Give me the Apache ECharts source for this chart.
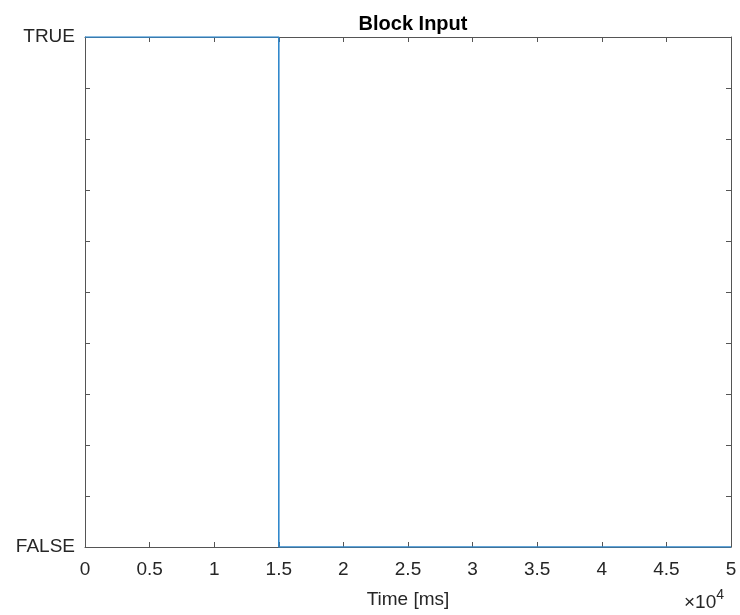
<!DOCTYPE html>
<html>
<head>
<meta charset="utf-8">
<script src="https://cdn.jsdelivr.net/npm/echarts@6/dist/echarts.min.js"></script>
<style>
  html, body { margin: 0; padding: 0; background: #fff; }
  #chart { width: 740px; height: 615px; }
</style>
</head>
<body>
<div id="chart"></div>
<script>
// block input signal: TRUE until 1.5e4 ms, then FALSE
var timeMs = [0, 15000, 15000, 50000];
var state = [1, 1, 0, 0];
var yLabels = { 0: 'FALSE', 1: 'TRUE' };

var FONT = "'Liberation Sans', Arial, Helvetica, sans-serif";
var TXT = '#262626';
var AX = '#555555';

var chart = echarts.init(document.getElementById('chart'));

var points = timeMs.map(function (t, i) { return [t, state[i]]; });

var tickStyle = { show: true, inside: true, length: 5, lineStyle: { color: AX, width: 1 } };

var option = {
  backgroundColor: '#fff',
  animation: false,
  title: {
    text: 'Block Input',
    left: 408, top: 9, textAlign: 'center',
    textStyle: { fontFamily: FONT, fontSize: 20, fontWeight: 'bold', color: '#000' }
  },
  grid: { left: 85, right: 9, top: 37, bottom: 68, containLabel: false },
  xAxis: [{
    type: 'value', min: 0, max: 50000, interval: 5000,
    axisLine: { show: true, lineStyle: { color: AX, width: 1 } },
    axisTick: tickStyle,
    splitLine: { show: false },
    axisLabel: {
      color: TXT, fontFamily: FONT, fontSize: 19, margin: 13,
      formatter: function (v) { return String(v / 10000); }
    },
    name: 'Time [ms]', nameLocation: 'middle', nameGap: 43,
    nameTextStyle: { color: TXT, fontFamily: FONT, fontSize: 19 }
  }, {
    type: 'value', position: 'top', min: 0, max: 50000, interval: 5000,
    axisLine: { show: true, onZero: false, lineStyle: { color: AX, width: 1 } },
    axisTick: tickStyle, axisLabel: { show: false }, splitLine: { show: false }
  }],
  yAxis: [{
    type: 'value', min: 0, max: 1, interval: 0.1,
    axisLine: { show: true, lineStyle: { color: AX, width: 1 } },
    axisTick: tickStyle,
    splitLine: { show: false },
    axisLabel: {
      color: TXT, fontFamily: FONT, fontSize: 19, margin: 10,
      formatter: function (v) { return yLabels[Math.round(v * 10) / 10] || ''; }
    }
  }, {
    type: 'value', position: 'right', min: 0, max: 1, interval: 0.1,
    axisLine: { show: true, onZero: false, lineStyle: { color: AX, width: 1 } },
    axisTick: tickStyle, axisLabel: { show: false }, splitLine: { show: false }
  }],
  series: [{
    type: 'line', data: points, showSymbol: false,
    lineStyle: { color: '#3188cc', width: 1.6 },
    z: 1
  }],
  graphic: [{
    type: 'text', left: 684, top: 588,
    style: {
      text: '{a|×10}{b|4}', fill: TXT,
      rich: {
        a: { fontFamily: FONT, fontSize: 19, fill: TXT, verticalAlign: 'bottom' },
        b: { fontFamily: FONT, fontSize: 14, fill: TXT, verticalAlign: 'top', padding: [0, 0, 10, 0] }
      }
    }
  }]
};

chart.setOption(option);
</script>
</body>
</html>
